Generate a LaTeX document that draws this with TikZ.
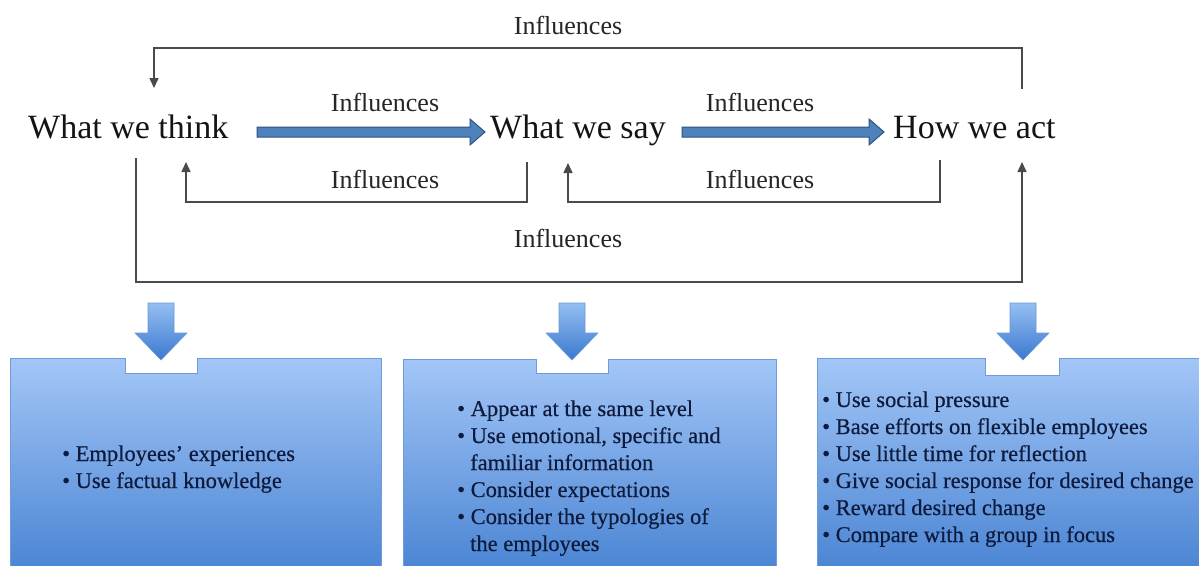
\documentclass[tikz,border=0pt]{standalone}
\usepackage{fontspec}
\setmainfont{Liberation Serif}
\newfontfamily\panelfont[FakeBold=0.5]{Liberation Serif}
\usetikzlibrary{arrows.meta}

\definecolor{linegray}{HTML}{4A4A4A}
\definecolor{flowfill}{HTML}{4F81BD}
\definecolor{flowedge}{HTML}{2F5285}
\definecolor{boxtop}{HTML}{A3C6F7}
\definecolor{boxbottom}{HTML}{4C86D4}
\definecolor{boxedge}{HTML}{6F9BD6}
\definecolor{blocktop}{HTML}{95BFF3}
\definecolor{blockbottom}{HTML}{3A78CE}
\definecolor{blockedge}{HTML}{6A98D8}
\definecolor{navy}{HTML}{0E1B3C}

\begin{document}
\begin{tikzpicture}[x=1pt,y=-1pt,
  stage/.style={font=\fontsize{34}{40}\selectfont, inner sep=0pt, anchor=base west, text=black!92},
  infl/.style={font=\fontsize{26}{30}\selectfont, inner sep=0pt, anchor=base, text=black!85},
  item/.style={font=\panelfont\fontsize{22.5}{27}\selectfont, inner sep=0pt, anchor=base west, text=navy},
  link/.style={draw=linegray, line width=1.5pt},
  linkarrow/.style={link, -{Triangle[width=9pt,length=10pt]}},
  flow/.style={fill=flowfill, draw=flowedge, line width=1pt, line join=miter},
  block/.style={top color=blocktop, bottom color=blockbottom, draw=blockedge, line width=0.6pt},
  panel/.style={top color=boxtop, bottom color=boxbottom, draw=boxedge, line width=1pt}
]
\useasboundingbox (0,0) rectangle (1199,565);
\fill[white] (0,0) rectangle (1199,565);

% the three stages
\node[stage] (think) at (28,138) {What we think};
\node[stage] (say)   at (490,138) {What we say};
\node[stage] (act)   at (893,138) {How we act};

% end points of the feedback connectors
\coordinate (act-up)     at (1022,89);
\coordinate (think-in)   at (154,88);
\coordinate (say-down)   at (527,162);
\coordinate (think-up)   at (186,162);
\coordinate (act-down)   at (940,160);
\coordinate (say-up)     at (568,163);
\coordinate (think-down) at (136,158);
\coordinate (act-in)     at (1022,162);

% forward block arrows
\draw[flow] (257,127) -- (470,127) -- (470,119) -- (485,132) -- (470,145) -- (470,137) -- (257,137) -- cycle;
\draw[flow] (682,127) -- (869,127) -- (869,119) -- (884,132) -- (869,145) -- (869,137) -- (682,137) -- cycle;
\node[infl] (l-ts) at (385,111) {Influences};
\node[infl] (l-sa) at (760,111) {Influences};

% feedback connectors
\draw[linkarrow] (act-up) |- (think-in |- 0,48) -- (think-in);
\node[infl] (l-top) at (568,34) {Influences};

\draw[linkarrow] (say-down) |- (think-up |- 0,202) -- (think-up);
\node[infl] (l-st) at (385,188) {Influences};

\draw[linkarrow] (act-down) |- (say-up |- 0,202) -- (say-up);
\node[infl] (l-as) at (760,188) {Influences};

\draw[linkarrow] (think-down) |- (act-in |- 0,282) -- (act-in);
\node[infl] (l-bottom) at (568,247) {Influences};

% panels with notches
\draw[panel] (10,358) -- (125,358) -- (125,373) -- (197,373) -- (197,358) -- (381,358)
  -- (381,566) -- (10,566) -- cycle;
\draw[panel] (403,359) -- (536,359) -- (536,373) -- (608,373) -- (608,359) -- (776,359)
  -- (776,566) -- (403,566) -- cycle;
\draw[panel] (817,358) -- (985,358) -- (985,375) -- (1059,375) -- (1059,358) -- (1200,358)
  -- (1200,566) -- (817,566) -- cycle;

% downward block arrows
\shade[block] (148,303) -- (174,303) -- (174,333) -- (187,333) -- (161,360) -- (135,333) -- (148,333) -- cycle;
\shade[block] (559,303) -- (585,303) -- (585,333) -- (598,333) -- (572,360) -- (546,333) -- (559,333) -- cycle;
\shade[block] (1010,303) -- (1036,303) -- (1036,333) -- (1049,333) -- (1023,360) -- (997,333) -- (1010,333) -- cycle;

% panel texts
\node[item] (t1) at (62,461) {• Employees’ experiences};
\node[item] (t2) at (62,488) {• Use factual knowledge};

\node[item] (s1) at (457,416) {• Appear at the same level};
\node[item] (s2) at (457,443) {• Use emotional, specific and};
\node[item] (s3) at (470,470) {familiar information};
\node[item] (s4) at (457,497) {• Consider expectations};
\node[item] (s5) at (457,524) {• Consider the typologies of};
\node[item] (s6) at (470,551) {the employees};

\node[item] (a1) at (822,407) {• Use social pressure};
\node[item] (a2) at (822,434) {• Base efforts on flexible employees};
\node[item] (a3) at (822,461) {• Use little time for reflection};
\node[item] (a4) at (822,488) {• Give social response for desired change};
\node[item] (a5) at (822,515) {• Reward desired change};
\node[item] (a6) at (822,542) {• Compare with a group in focus};
\end{tikzpicture}
\end{document}
